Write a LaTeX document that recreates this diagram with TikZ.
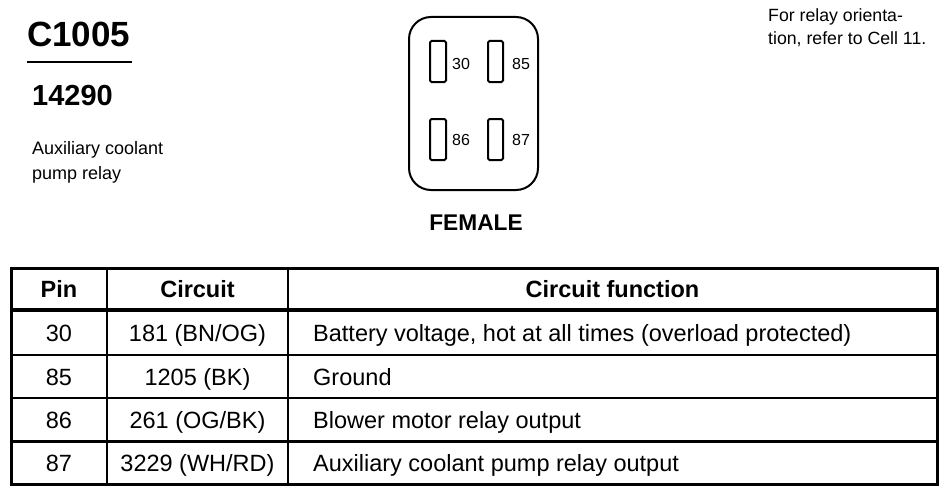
\documentclass[tikz,border=0pt]{standalone}
\usepackage{fontspec}
\setmainfont{Liberation Sans}
\begin{document}
\begin{tikzpicture}[x=1pt,y=-1pt,
  txt/.style={inner sep=0pt,anchor=base west},
  ctxt/.style={inner sep=0pt,anchor=base},
  pinbox/.style={draw,line width=2pt,rounded corners=1.5pt},
  pinlbl/.style={inner sep=0pt,anchor=base west,font=\fontsize{16}{16}\selectfont},
  body/.style={font=\fontsize{23.5}{23.5}\selectfont},
  head/.style={font=\bfseries\fontsize{23.5}{23.5}\selectfont}]
\useasboundingbox (0,0) rectangle (949,495);
% title block
\node[txt,font=\bfseries\fontsize{35}{35}\selectfont] (c1005) at (27,47) {C1005};
\draw[line width=1.5pt] (27,62) -- (132,62);
\node[txt,font=\bfseries\fontsize{29}{29}\selectfont] (num) at (32,105) {14290};
\node[txt,font=\fontsize{18}{18}\selectfont] (d1) at (32,154) {Auxiliary coolant};
\node[txt,font=\fontsize{18}{18}\selectfont] (d2) at (32,179) {pump relay};
% note
\node[txt,font=\fontsize{17.7}{17.7}\selectfont] (n1) at (768,22) {For relay orienta-};
\node[txt,font=\fontsize{17.7}{17.7}\selectfont] (n2) at (768,45) {tion, refer to Cell 11.};
% connector
\draw[line width=2pt,rounded corners=22pt] (409,17) rectangle (538,190);
\draw[pinbox] (430,41) rectangle (446,82);
\draw[pinbox] (488,41) rectangle (503,82);
\draw[pinbox] (430,119) rectangle (446,160);
\draw[pinbox] (488,119) rectangle (503,160);
\node[pinlbl] (p30) at (452,70) {30};
\node[pinlbl] (p85) at (512,70) {85};
\node[pinlbl] (p86) at (452,145) {86};
\node[pinlbl] (p87) at (512,145) {87};
\node[ctxt,font=\bfseries\fontsize{22.7}{22.7}\selectfont] (fem) at (476,230) {FEMALE};
% table
\draw[line width=1.6pt] (107,268) -- (107,484);
\draw[line width=1.6pt] (288,268) -- (288,484);
\draw[line width=3.5pt] (11,310) -- (937,310);
\draw[line width=1.8pt] (11,355) -- (937,355);
\draw[line width=1.8pt] (11,398) -- (937,398);
\draw[line width=3pt] (11,441) -- (937,441);
\draw[line width=3pt] (11,268) rectangle (937,484);
\node[ctxt,head] (h1) at (59,297) {Pin};
\node[ctxt,head] (h2) at (197.5,297) {Circuit};
\node[ctxt,head] (h3) at (612.5,297) {Circuit function};
\node[ctxt,body] (r1a) at (59,341) {30};
\node[ctxt,body] (r1b) at (197.5,341) {181 (BN/OG)};
\node[txt,body] (r1c) at (313,341) {Battery voltage, hot at all times (overload protected)};
\node[ctxt,body] (r2a) at (59,385) {85};
\node[ctxt,body] (r2b) at (197.5,385) {1205 (BK)};
\node[txt,body] (r2c) at (313,385) {Ground};
\node[ctxt,body] (r3a) at (59,428) {86};
\node[ctxt,body] (r3b) at (197.5,428) {261 (OG/BK)};
\node[txt,body] (r3c) at (313,428) {Blower motor relay output};
\node[ctxt,body] (r4a) at (59,471) {87};
\node[ctxt,body] (r4b) at (197.5,471) {3229 (WH/RD)};
\node[txt,body] (r4c) at (313,471) {Auxiliary coolant pump relay output};
\end{tikzpicture}
\end{document}
